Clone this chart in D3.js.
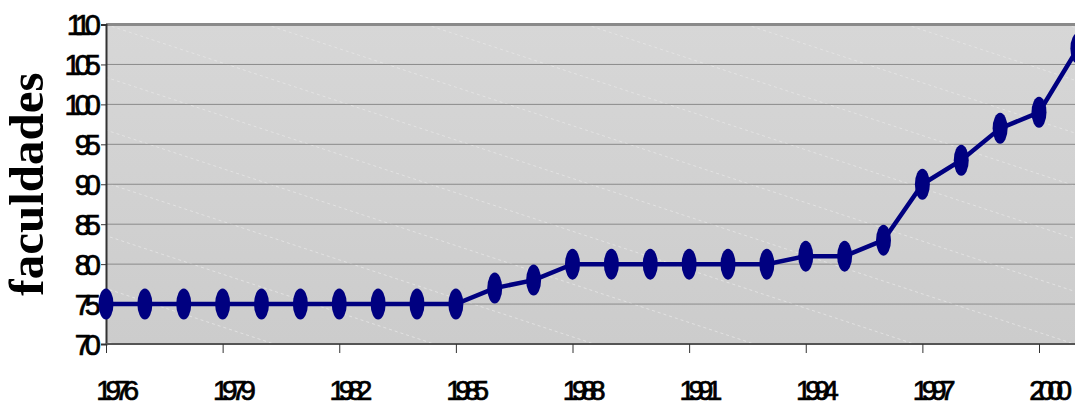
<!DOCTYPE html>
<html>
<head>
<meta charset="utf-8">
<script src="https://cdn.jsdelivr.net/npm/d3@7"></script>
<style>
	body { margin: 0; background: #fff; overflow: hidden; }
	svg { display: block; }
</style>
</head>
<body>
<script>
// data
const years = [1976, 1977, 1978, 1979, 1980, 1981, 1982, 1983, 1984, 1985, 1986, 1987, 1988,
	1989, 1990, 1991, 1992, 1993, 1994, 1995, 1996, 1997, 1998, 1999, 2000, 2001];
const faculdades = [75, 75, 75, 75, 75, 75, 75, 75, 75, 75, 77, 78, 80,
	80, 80, 80, 80, 80, 81, 81, 83, 90, 93, 97, 99, 107];
const yTicks = [70, 75, 80, 85, 90, 95, 100, 105, 110];
const xTicks = [1976, 1979, 1982, 1985, 1988, 1991, 1994, 1997, 2000];
const yLabel = "faculdades";

const width = 1075, height = 406;
const plotLeft = 106, plotTop = 24.5, plotBottom = 344;

const svg = d3.select("body").append("svg")
	.attr("width", width)
	.attr("height", height);

let xScale = d3.scaleLinear().domain([1976, 2000]).range([plotLeft, 1039]);
let yScale = d3.scaleLinear().domain([70, 110]).range([plotBottom, plotTop]);

let defs = svg.append("defs");
let grad = defs.append("linearGradient").attr("id", "bg")
	.attr("x1", 0).attr("y1", 0).attr("x2", 0).attr("y2", 1);
grad.append("stop").attr("offset", "0%").attr("stop-color", "#d7d7d7");
grad.append("stop").attr("offset", "100%").attr("stop-color", "#cccccc");
defs.append("clipPath").attr("id", "plotclip").append("rect")
	.attr("x", plotLeft).attr("y", plotTop)
	.attr("width", width - plotLeft).attr("height", plotBottom - plotTop);

// plot area
svg.append("rect")
	.attr("x", plotLeft).attr("y", plotTop)
	.attr("width", width - plotLeft).attr("height", plotBottom - plotTop)
	.attr("fill", "url(#bg)");

// faint diagonal dashed streaks
let streaks = svg.append("g").attr("clip-path", "url(#plotclip)");
for (let i = -6; i < 8; i++) {
	let x0 = plotLeft + i * 160;
	streaks.append("line")
		.attr("x1", x0).attr("y1", plotTop)
		.attr("x2", x0 + 1000).attr("y2", plotTop + 330)
		.attr("stroke", "#e6e6e6")
		.attr("stroke-width", 0.8)
		.attr("stroke-dasharray", "3,3");
}

// gridlines
svg.append("g")
	.selectAll("line")
	.data(yTicks.slice(1, -1))
	.enter()
	.append("line")
	.attr("x1", plotLeft).attr("x2", width)
	.attr("y1", (d) => yScale(d)).attr("y2", (d) => yScale(d))
	.attr("stroke", "#8a8a8a")
	.attr("stroke-width", 1);

// top border
svg.append("line")
	.attr("x1", plotLeft).attr("x2", width)
	.attr("y1", plotTop).attr("y2", plotTop)
	.attr("stroke", "#8a8a8a").attr("stroke-width", 3);

// axes
let yAxis = d3.axisLeft(yScale).tickValues(yTicks).tickSize(5).tickFormat(d3.format("d"));
let xAxis = d3.axisBottom(xScale).tickValues(xTicks).tickSize(9).tickFormat(d3.format("d"));

let gy = svg.append("g")
	.attr("id", "y-axis")
	.attr("transform", "translate(" + plotLeft + ",0)")
	.call(yAxis);
gy.select(".domain").attr("stroke", "#333").attr("stroke-width", 2);
gy.selectAll(".tick line").attr("stroke", "#333");
gy.selectAll(".tick text")
	.attr("x", -11)
	.attr("dy", "0.36em")
	.attr("font-family", "Liberation Sans, Arial, sans-serif")
	.attr("font-size", 29)
	.attr("letter-spacing", "-6px")
	.attr("stroke", "#000")
	.attr("stroke-width", 0.7)
	.attr("fill", "#000");

let gx = svg.append("g")
	.attr("id", "x-axis")
	.attr("transform", "translate(0," + plotBottom + ")")
	.call(xAxis);
gx.select(".domain").attr("stroke", "#555").attr("stroke-width", 2).attr("d", "M" + plotLeft + ",0H" + width);
gx.selectAll(".tick line").attr("stroke", "#333");
gx.selectAll(".tick text")
	.attr("y", 56)
	.attr("dy", 0)
	.attr("dx", 8)
	.attr("font-family", "Liberation Sans, Arial, sans-serif")
	.attr("font-size", 28)
	.attr("letter-spacing", "-6.5px")
	.attr("stroke", "#000")
	.attr("stroke-width", 0.7)
	.attr("fill", "#000");

// series
let points = years.map((y, i) => [y, faculdades[i]]);
let line = d3.line().x((d) => xScale(d[0])).y((d) => yScale(d[1]));

svg.append("path")
	.datum(points)
	.attr("d", line)
	.attr("fill", "none")
	.attr("stroke", "#000080")
	.attr("stroke-width", 4.5);

svg.selectAll("ellipse")
	.data(points)
	.enter()
	.append("ellipse")
	.attr("cx", (d) => xScale(d[0]))
	.attr("cy", (d) => yScale(d[1]))
	.attr("rx", 7.5)
	.attr("ry", 15.5)
	.attr("fill", "#000080");

// y label
svg.append("text")
	.attr("transform", "translate(43,184) rotate(-90)")
	.attr("text-anchor", "middle")
	.attr("font-family", "Liberation Serif, Times New Roman, serif")
	.attr("font-weight", "bold")
	.attr("font-size", 49)
	.attr("fill", "#000")
	.text(yLabel);
</script>
</body>
</html>
